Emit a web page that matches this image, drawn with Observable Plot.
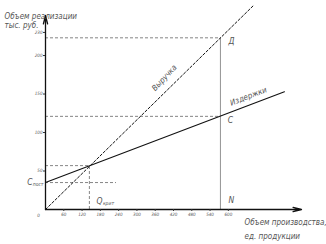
<!DOCTYPE html>
<html><head><meta charset="utf-8">
<script src="https://cdn.jsdelivr.net/npm/d3@7"></script>
<script src="https://cdn.jsdelivr.net/npm/@observablehq/plot@0.6"></script>
<style>body{margin:0;background:#fff}</style>
</head><body><div id="chart"></div>
<script>
// ---- data ----
const xTicks = [60, 120, 180, 240, 300, 360, 420, 480, 540, 600];
const yTicks = [50, 100, 150, 200, 230];
const revenueQ = [0, 685];
const revenueV = [0, 266];
const costQ = [0, 784];
const costV = [35, 153];
const fixedCost = 35;
const fixedCostGuideEnd = 233;
const qCrit = 144;
const breakEvenValue = 57;
const qN = 574;
const revenueAtN = 223;
const costAtN = 121;
const xMax = 840;
const yMax = 252;

const revenue = revenueQ.map((q, i) => ({q, v: revenueV[i]}));
const costs = costQ.map((q, i) => ({q, v: costV[i]}));

const FONT = "'DejaVu Sans Condensed', 'Liberation Sans Narrow', sans-serif";
const TXT = "#555";
const dash = "3,2";

const chart = Plot.plot({
  width: 326, height: 244,
  marginLeft: 45, marginRight: 25, marginTop: 15, marginBottom: 35,
  x: {domain: [0, xMax], axis: null},
  y: {domain: [0, yMax], axis: null},
  style: {fontFamily: FONT, fontStyle: "italic", background: "#fff"},
  marks: [
    // guides
    Plot.ruleY([revenueAtN], {x1: 0, x2: qN, stroke: "#666", strokeWidth: 0.8, strokeDasharray: dash}),
    Plot.ruleY([costAtN], {x1: 0, x2: qN, stroke: "#666", strokeWidth: 0.8, strokeDasharray: dash}),
    Plot.ruleY([breakEvenValue], {x1: 0, x2: qCrit, stroke: "#666", strokeWidth: 0.8, strokeDasharray: dash}),
    Plot.ruleY([fixedCost], {x1: 0, x2: fixedCostGuideEnd, stroke: "#666", strokeWidth: 0.8, strokeDasharray: dash}),
    Plot.ruleX([qCrit], {y1: 0, y2: breakEvenValue, stroke: "#666", strokeWidth: 0.8, strokeDasharray: dash}),
    Plot.ruleX([qN], {y1: 0, y2: revenueAtN, stroke: "#888", strokeWidth: 0.9}),
    // series
    Plot.line(revenue, {x: "q", y: "v", stroke: "#111", strokeWidth: 1, strokeDasharray: "2.5,2"}),
    Plot.line(costs, {x: "q", y: "v", stroke: "#111", strokeWidth: 1.1}),
    // axes with arrows
    Plot.arrow([{x1: 0, y1: 0, x2: xMax, y2: 0}], {x1: "x1", y1: "y1", x2: "x2", y2: "y2", stroke: "#111", strokeWidth: 1.3, headLength: 10, headAngle: 28}),
    Plot.arrow([{x1: 0, y1: 0, x2: 0, y2: yMax}], {x1: "x1", y1: "y1", x2: "x2", y2: "y2", stroke: "#111", strokeWidth: 1.3, headLength: 10, headAngle: 28}),
    Plot.axisX({ticks: xTicks, tickSize: 2, tickPadding: 1, fontSize: 4.5, stroke: "#333", color: TXT, label: null, anchor: "bottom"}),
    Plot.axisY({ticks: yTicks, tickSize: 2, tickPadding: 1, fontSize: 4.5, stroke: "#333", color: TXT, label: null, anchor: "left"}),
    Plot.text([0], {x: 0, y: 0, text: () => "0", dx: -7, dy: 6, fontSize: 4.5, fill: TXT}),
    // line labels
    Plot.text(["Выручка"], {x: 390, y: 171, text: d => d, rotate: -47, fontSize: 8, fill: TXT}),
    Plot.text(["Издержки"], {x: 666, y: 147, text: d => d, rotate: -21, fontSize: 8, fill: TXT}),
    Plot.text(["Д"], {x: qN, y: revenueAtN, text: d => d, dx: 11, dy: 3, fontSize: 8.5, fill: TXT}),
    Plot.text(["С"], {x: qN, y: costAtN, text: d => d, dx: 10, dy: 4, fontSize: 8.5, fill: TXT}),
    Plot.text(["N"], {x: qN, y: 0, text: d => d, dx: 11, dy: -9, fontSize: 8.5, fill: TXT}),
    Plot.text(["C"], {x: 0, y: fixedCost, text: d => d, textAnchor: "end", dx: -13, dy: 0, fontSize: 8.5, fill: TXT}),
    Plot.text(["пост"], {x: 0, y: fixedCost, text: d => d, textAnchor: "end", dx: -2, dy: 2, fontSize: 5, fill: TXT}),
    Plot.text(["Q"], {x: qCrit, y: 0, text: d => d, textAnchor: "start", dx: 7, dy: -8, fontSize: 8.5, fill: TXT}),
    Plot.text(["крит"], {x: qCrit, y: 0, text: d => d, textAnchor: "start", dx: 13.5, dy: -6, fontSize: 5, fill: TXT}),
    // axis titles
    Plot.text(["Объем реализации"], {frameAnchor: "top-left", text: d => d, textAnchor: "start", dx: -41, dy: -2, fontSize: 8, fill: TXT}),
    Plot.text(["тыс. руб."], {frameAnchor: "top-left", text: d => d, textAnchor: "start", dx: -41, dy: 7, fontSize: 8, fill: TXT}),
    Plot.text(["Объем производства,"], {frameAnchor: "bottom-right", text: d => d, textAnchor: "start", dx: -57, dy: 15, fontSize: 8, fill: TXT}),
    Plot.text(["ед. продукции"], {frameAnchor: "bottom-right", text: d => d, textAnchor: "start", dx: -57, dy: 29, fontSize: 8, fill: TXT})
  ]
});
document.getElementById("chart").appendChild(chart);
</script>
</body></html>
